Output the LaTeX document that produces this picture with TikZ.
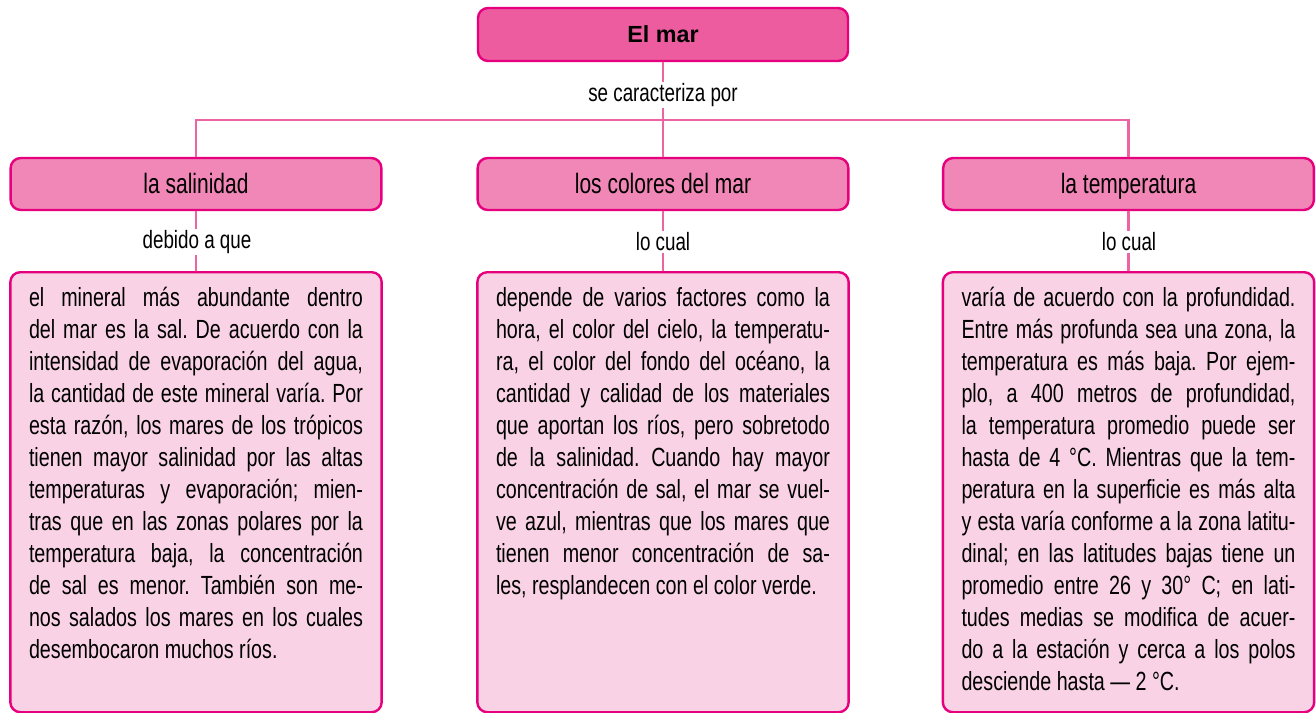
\documentclass[tikz,border=0pt]{standalone}
\usepackage{fontspec}
\setmainfont{Liberation Sans}
\newfontfamily\condfont[FakeStretch=0.75]{Liberation Sans}
\definecolor{magborder}{RGB}{230,0,126}
\definecolor{marfill}{RGB}{238,92,160}
\definecolor{headfill}{RGB}{241,135,183}
\definecolor{boxfill}{RGB}{249,211,229}
\definecolor{linkpink}{RGB}{236,100,162}
\tolerance=9999
\hyphenpenalty=10000
\frenchspacing
\begin{document}
\begin{tikzpicture}[x=0.75pt,y=0.75pt,yscale=-1,xscale=1,
  topbox/.style={draw=magborder,fill=marfill,line width=1.8pt,rounded corners=7.5pt,minimum width=277.5pt,minimum height=39.75pt,inner sep=0pt,text height=12.5pt,text depth=0pt,font=\bfseries\fontsize{17.5}{21}\selectfont},
  headbox/.style={draw=magborder,fill=headfill,line width=1.8pt,rounded corners=7.5pt,minimum width=278pt,minimum height=39pt,inner sep=0pt,text height=14.5pt,text depth=0pt,font=\condfont\fontsize{21}{25}\selectfont},
  textbox/.style={draw=magborder,fill=boxfill,line width=1.8pt,rounded corners=7.5pt,anchor=north,inner xsep=14pt,inner ysep=0pt,text width=250.5pt,align=justify,text height=25.5pt,text depth=304.5pt,font=\condfont\fontsize{19.7}{24}\selectfont},
  lbl/.style={fill=white,inner sep=1pt,font=\condfont\fontsize{18.8}{22}\selectfont},
  conn/.style={draw=linkpink,line width=1.6pt}]
\useasboundingbox (0,0) rectangle (1316,713);

%Rounded Rect: top
\node [topbox] (mar) at (663,34.5) {El mar};
%Rounded Rect: headers
\node [headbox] (hsal) at (196,184) {la salinidad};
\node [headbox] (hcol) at (663,184) {los colores del mar};
\node [headbox] (htemp) at (1128.5,184) {la temperatura};
%Rounded Rect: text boxes
\node [textbox] (bsal) at (196,271) {el mineral más abundante dentro\linebreak
del mar es la sal. De acuerdo con la\linebreak
intensidad de evaporación del agua,\linebreak
la cantidad de este mineral varía. Por\linebreak
esta razón, los mares de los trópicos\linebreak
tienen mayor salinidad por las altas\linebreak
temperaturas y evaporación; mien-\linebreak
tras que en las zonas polares por la\linebreak
temperatura baja, la concentración\linebreak
de sal es menor. También son me-\linebreak
nos salados los mares en los cuales\linebreak
desembocaron muchos ríos.};
\node [textbox] (bcol) at (663,271) {depende de varios factores como la\linebreak
hora, el color del cielo, la temperatu-\linebreak
ra, el color del fondo del océano, la\linebreak
cantidad y calidad de los materiales\linebreak
que aportan los ríos, pero sobretodo\linebreak
de la salinidad. Cuando hay mayor\linebreak
concentración de sal, el mar se vuel-\linebreak
ve azul, mientras que los mares que\linebreak
tienen menor concentración de sa-\linebreak
les, resplandecen con el color verde.};
\node [textbox] (btemp) at (1128.5,271) {varía de acuerdo con la profundidad.\linebreak
Entre más profunda sea una zona, la\linebreak
temperatura es más baja. Por ejem-\linebreak
plo, a 400 metros de profundidad,\linebreak
la temperatura promedio puede ser\linebreak
hasta de 4 °C. Mientras que la tem-\linebreak
peratura en la superficie es más alta\linebreak
y esta varía conforme a la zona latitu-\linebreak
dinal; en las latitudes bajas tiene un\linebreak
promedio entre 26 y 30° C; en lati-\linebreak
tudes medias se modifica de acuer-\linebreak
do a la estación y cerca a los polos\linebreak
desciende hasta — 2 °C.};

%Straight Lines
\coordinate (bar) at (663,120);
\draw [conn] (mar) -- (bar);
\draw [conn] (hsal.north) |- (bar) -| (htemp.north);
\draw [conn] (bar) -- (hcol);
\draw [conn] (hsal) -- (bsal);
\draw [conn] (hcol) -- (bcol);
\draw [conn] (htemp) -- (btemp);

% Text Node
\node [lbl] (lcar) at (663,95) {se caracteriza por};
\node [lbl] (ldeb) at (197,242) {debido a que};
\node [lbl] (lcol) at (663,242) {lo cual};
\node [lbl] (ltemp) at (1129,242) {lo cual};
\end{tikzpicture}
\end{document}
